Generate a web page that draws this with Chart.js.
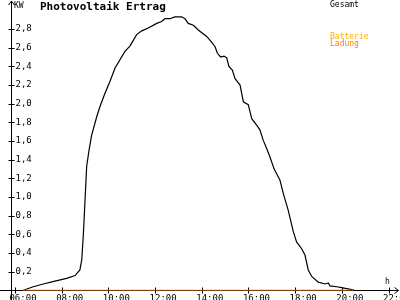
<!DOCTYPE html>
<html>
<head>
<meta charset="utf-8">
<script src="https://cdn.jsdelivr.net/npm/chart.js@4/dist/chart.umd.min.js"></script>
<style>
  html, body { margin: 0; padding: 0; background: #fff; }
  #wrap { width: 400px; height: 300px; }
</style>
</head>
<body>
<div id="wrap"><canvas id="pv" width="400" height="300"></canvas></div>
<script>
// time of day in hours
const timeH = [6.33, 6.78, 7.21, 7.71, 8.21, 8.57, 8.78, 8.86, 8.93, 9.00, 9.07, 9.17, 9.28, 9.50, 9.64, 9.85,
  10.07, 10.28, 10.71, 10.93, 11.21, 11.43, 11.71, 12.07, 12.28, 12.42, 12.64, 12.85, 13.14, 13.28,
  13.42, 13.64, 13.85, 14.21, 14.42, 14.57, 14.67, 14.81, 14.95, 15.07, 15.16, 15.31, 15.42, 15.64,
  15.78, 15.99, 16.14, 16.35, 16.49, 16.63, 16.78, 16.92, 17.10, 17.35, 17.49, 17.70, 17.92, 18.06,
  18.27, 18.42, 18.56, 18.71, 18.99, 19.28, 19.42, 19.49, 19.78, 19.99, 20.42, 20.56];

// Gesamt (kW)
const gesamtKW = [0.00, 0.04, 0.07, 0.10, 0.13, 0.16, 0.22, 0.33, 0.61, 0.97, 1.33, 1.50, 1.66, 1.86, 1.97, 2.11,
  2.24, 2.38, 2.56, 2.62, 2.74, 2.78, 2.81, 2.86, 2.88, 2.91, 2.91, 2.93, 2.93, 2.91,
  2.86, 2.84, 2.79, 2.72, 2.66, 2.61, 2.54, 2.50, 2.51, 2.49, 2.40, 2.36, 2.27, 2.20,
  2.02, 1.99, 1.84, 1.77, 1.72, 1.61, 1.52, 1.43, 1.30, 1.18, 1.04, 0.86, 0.63, 0.52,
  0.45, 0.38, 0.22, 0.15, 0.09, 0.07, 0.08, 0.05, 0.04, 0.03, 0.01, 0.00];

// Batterie Ladung (kW) - stays at zero
const ladungTime = [6.33, 20.48];
const ladungKW = [0, 0];

const xTicks = [6, 8, 10, 12, 14, 16, 18, 20, 22];
const yTicks = [0.2, 0.4, 0.6, 0.8, 1.0, 1.2, 1.4, 1.6, 1.8, 2.0, 2.2, 2.4, 2.6, 2.8];

const MONO = "'DejaVu Sans Mono', 'Liberation Mono', monospace";

function toPoints(times, values) {
    return times.map((t, i) => ({x: t, y: values[i]}));
}

// axes with arrows and crossing tick marks, drawn from the chart's own scales
const axesPlugin = {
    id: "axes",
    beforeDatasetsDraw(chart) {
        const ctx = chart.ctx;
        const xs = chart.scales.x;
        const ys = chart.scales.y;
        const x0 = chart.chartArea.left;
        const y0 = chart.chartArea.bottom;
        const xEnd = 398.5;

        ctx.save();
        ctx.strokeStyle = "#000";
        ctx.lineWidth = 1;
        ctx.beginPath();
        // x axis
        ctx.moveTo(0, y0);
        ctx.lineTo(xEnd, y0);
        ctx.moveTo(xEnd - 4, y0 - 3);
        ctx.lineTo(xEnd, y0);
        ctx.lineTo(xEnd - 4, y0 + 3);
        // y axis
        ctx.moveTo(x0, 300);
        ctx.lineTo(x0, 1);
        ctx.moveTo(x0 - 3, 5);
        ctx.lineTo(x0, 1);
        ctx.lineTo(x0 + 3, 5);
        // tick marks
        xTicks.forEach(v => {
            const px = Math.round(xs.getPixelForValue(v)) + 0.5;
            ctx.moveTo(px, y0 - 3);
            ctx.lineTo(px, y0 + 3);
        });
        yTicks.forEach(v => {
            const py = Math.round(ys.getPixelForValue(v)) + 0.5;
            ctx.moveTo(x0 - 3, py);
            ctx.lineTo(x0 + 3, py);
        });
        ctx.stroke();
        ctx.restore();
    },
    afterDraw(chart) {
        const ctx = chart.ctx;
        ctx.save();
        ctx.textBaseline = "alphabetic";
        ctx.textAlign = "left";

        ctx.fillStyle = "#000";
        ctx.font = "bold 11px " + MONO;
        ctx.fillText("Photovoltaik Ertrag", 40, 10);

        ctx.font = "8px " + MONO;
        ctx.fillText("KW", 14, 8);
        ctx.fillText("h", 385, 284);
        ctx.fillText("Gesamt", 330, 7);

        ctx.fillStyle = "#ffb000";
        ctx.fillText("Batterie", 330, 39);
        ctx.fillStyle = "#ff8000";
        ctx.fillText("Ladung", 330, 46);
        ctx.restore();
    }
};

new Chart(document.getElementById("pv"), {
    type: "line",
    data: {
        datasets: [
            {
                label: "Ladung",
                data: toPoints(ladungTime, ladungKW),
                borderColor: "#ff8000",
                borderWidth: 1.5
            },
            {
                label: "Gesamt",
                data: toPoints(timeH, gesamtKW),
                borderColor: "#000000",
                borderWidth: 1.2
            }
        ]
    },
    options: {
        responsive: false,
        animation: false,
        layout: { padding: { top: 2, left: 0, right: 0, bottom: 0 } },
        elements: {
            point: { radius: 0 },
            line: { tension: 0, fill: false }
        },
        plugins: {
            legend: { display: false },
            tooltip: { enabled: false }
        },
        scales: {
            x: {
                type: "linear",
                min: 5.85,
                max: 22.49,
                grid: { display: false, drawTicks: false },
                border: { display: false },
                afterBuildTicks: (scale) => { scale.ticks = xTicks.map(v => ({value: v})); },
                afterFit: (scale) => {
                    scale.height = 9.5;
                    scale.paddingLeft = 0;
                    scale.paddingRight = 0;
                },
                ticks: {
                    autoSkip: false,
                    maxRotation: 0,
                    padding: 3,
                    labelOffset: 8,
                    color: "#000",
                    font: { family: MONO, size: 9 },
                    callback: (v) => String(v).padStart(2, "0") + ":00"
                }
            },
            y: {
                min: 0,
                max: 3.089,
                grid: { display: false, drawTicks: false },
                border: { display: false },
                afterBuildTicks: (scale) => { scale.ticks = yTicks.map(v => ({value: v})); },
                afterFit: (scale) => {
                    scale.width = 11.5;
                    scale.paddingTop = 0;
                    scale.paddingBottom = 0;
                },
                ticks: {
                    mirror: true,
                    padding: 4,
                    color: "#000",
                    font: { family: MONO, size: 9 },
                    callback: (v) => v.toFixed(1).replace(".", ",")
                }
            }
        }
    },
    plugins: [axesPlugin]
});
</script>
</body>
</html>
